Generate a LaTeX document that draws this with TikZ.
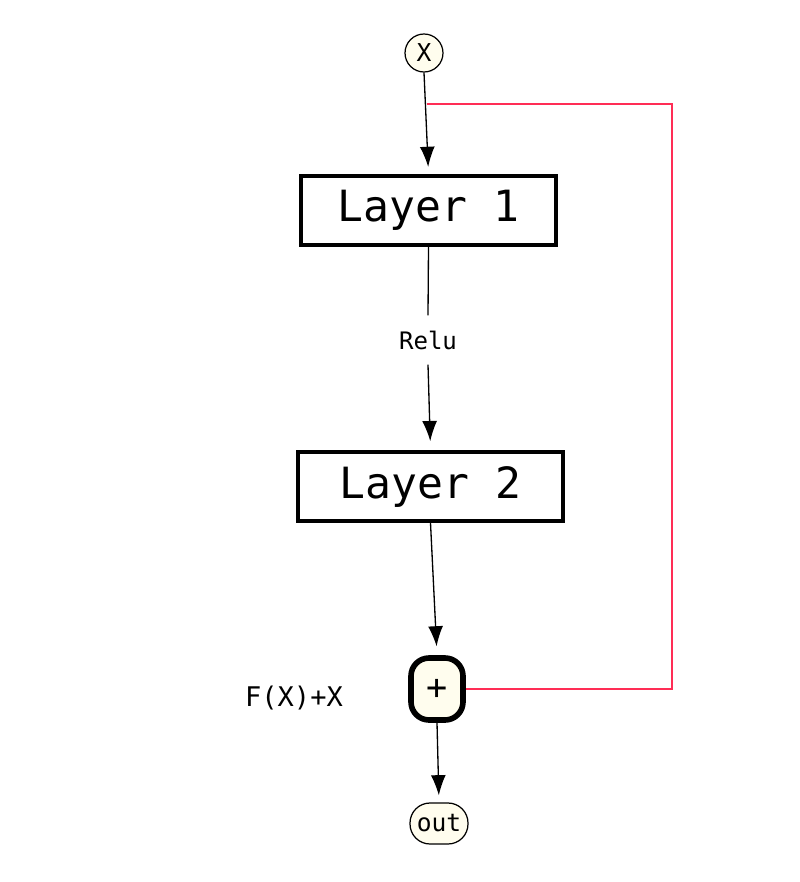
\documentclass[tikz,border=0pt]{standalone}
\usepackage{fontspec}
\setmonofont{DejaVu Sans Mono}
\usepackage{xcolor}
\usetikzlibrary{arrows.meta,positioning,calc}
\definecolor{cream}{RGB}{255,253,238}
\definecolor{skipred}{RGB}{255,45,85}

\begin{document}
\begin{tikzpicture}[x=0.02cm,y=-0.02cm,
  layerbox/.style={draw,line width=2.3pt,minimum width=5.1cm,minimum height=1.38cm,
                   font=\ttfamily\fontsize{24.5}{29}\selectfont},
  endpt/.style={draw,fill=cream,line width=0.7pt,font=\ttfamily\fontsize{14}{16}\selectfont},
  flow/.style={line width=0.75pt,-{Latex[length=11.5pt,width=8.5pt]}},
  skip/.style={skipred,line width=1.3pt}]

\useasboundingbox (0,0) rectangle (800,882);

% ---------------- nodes ----------------
\node[endpt,circle,minimum size=0.76cm,inner sep=0pt] (x) at (424,53) {X};
\node[layerbox] (layer1) at (428.5,210.5) {\raisebox{-2pt}{Layer 1}};
\node[font=\ttfamily\fontsize{13.7}{16}\selectfont,inner xsep=2pt,inner ysep=0.3cm]
     (relu) at (428,340) {Relu};
\node[layerbox,minimum width=5.3cm] (layer2) at (430.5,486.5) {\raisebox{-2pt}{Layer 2}};
\node[draw,fill=cream,line width=3.2pt,rounded corners=0.36cm,minimum width=1.04cm,
      minimum height=1.24cm,inner sep=0pt,font=\ttfamily\fontsize{20}{22}\selectfont]
     (plus) at (437,689) {+};
\node[endpt,rounded corners=0.4cm,minimum width=1.16cm,minimum height=0.82cm,inner sep=0pt]
     (out) at (439,823.5) {out};
\node[font=\ttfamily\fontsize{15.4}{18}\selectfont] (sum) at (294,698) {F(X)+X};

% ---------------- connectors ----------------
\draw[flow,shorten >=4pt] (x.south) -- (layer1.north);
\draw[line width=0.75pt] (layer1.south) -- (relu.north);
\draw[flow,shorten >=5pt] (relu.south) -- (layer2.north);
\draw[flow,shorten >=5pt] (layer2.south) -- (plus.north);
\draw[flow,shorten >=4pt] (plus.south) -- (out.north);

% skip connection
\coordinate (split) at (427,104);
\coordinate (rail) at (672,400);
\draw[skip] (split) -| (rail) |- (plus.east);

\end{tikzpicture}
\end{document}
